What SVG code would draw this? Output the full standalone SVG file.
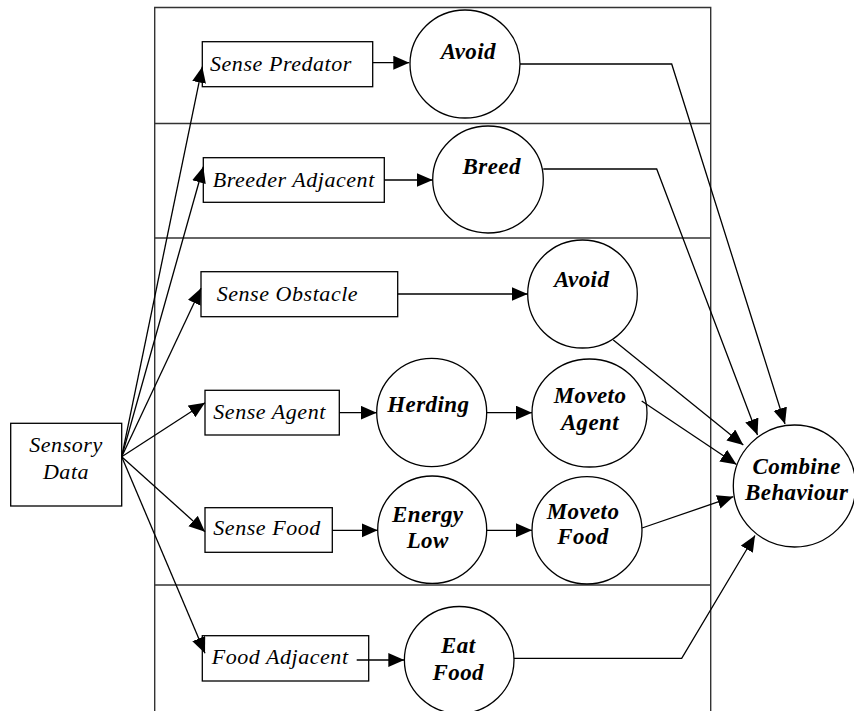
<svg xmlns="http://www.w3.org/2000/svg" width="854" height="711" viewBox="0 0 854 711">
<style>
.frame{fill:none;stroke:#333;stroke-width:1.4}
.box{fill:#fff;stroke:#000;stroke-width:1.3}
.circ{fill:#fff;stroke:#000;stroke-width:1.3}
.conn{fill:none;stroke:#000;stroke-width:1.3;marker-end:url(#ah)}
.bt{font-family:"Liberation Serif",serif;font-style:italic;font-size:22px;letter-spacing:0.55px;fill:#000}
.ct{font-family:"Liberation Serif",serif;font-style:italic;font-weight:bold;font-size:23px;letter-spacing:0.4px;fill:#000;text-anchor:middle}
</style>
<defs>
<marker id="ah" markerUnits="userSpaceOnUse" markerWidth="17" markerHeight="15" refX="16" refY="7" orient="auto">
<path d="M0,0 L16,7 L0,14 z" fill="#000"/>
</marker>
</defs>
<g id="frame">
<path class="frame" d="M154.7,711 V7.5 H710.7 V711"/>
<line class="frame" x1="154.7" y1="123.5" x2="710.7" y2="123.5"/>
<line class="frame" x1="154.7" y1="238" x2="710.7" y2="238"/>
<line class="frame" x1="154.7" y1="585" x2="710.7" y2="585"/>
</g>
<g id="sensory-data">
<rect class="box" x="10.7" y="423.3" width="111" height="82.7"/>
<text class="bt" x="66" y="451.7" text-anchor="middle">Sensory</text>
<text class="bt" x="66" y="479" text-anchor="middle">Data</text>
</g>
<g id="sense-predator">
<rect class="box" x="202.3" y="41.7" width="170.4" height="45"/>
<text class="bt" x="210" y="71">Sense Predator</text>
</g>
<g id="breeder-adjacent">
<rect class="box" x="203.3" y="157.7" width="181" height="44.6"/>
<text class="bt" x="212.7" y="186.7">Breeder Adjacent</text>
</g>
<g id="sense-obstacle">
<rect class="box" x="201" y="271.7" width="196.7" height="45"/>
<text class="bt" x="216.7" y="301">Sense Obstacle</text>
</g>
<g id="sense-agent">
<rect class="box" x="205" y="390.3" width="134.3" height="44.7"/>
<text class="bt" x="213.3" y="419.3">Sense Agent</text>
</g>
<g id="sense-food">
<rect class="box" x="205" y="507.7" width="127.3" height="44.6"/>
<text class="bt" x="213.3" y="535">Sense Food</text>
</g>
<g id="food-adjacent">
<rect class="box" x="202.3" y="635.7" width="166.4" height="45.3"/>
<text class="bt" x="211.7" y="664.3">Food Adjacent</text>
</g>
<g id="avoid-1">
<ellipse class="circ" cx="465" cy="64" rx="55" ry="54"/>
<text class="ct" x="468.3" y="59">Avoid</text>
</g>
<g id="breed">
<ellipse class="circ" cx="488" cy="179.5" rx="55.3" ry="53.5"/>
<text class="ct" x="491.7" y="174">Breed</text>
</g>
<g id="avoid-2">
<ellipse class="circ" cx="582.5" cy="294" rx="54.8" ry="54"/>
<text class="ct" x="581.7" y="286.7">Avoid</text>
</g>
<g id="herding">
<ellipse class="circ" cx="431.7" cy="412.5" rx="55" ry="54.2"/>
<text class="ct" x="428.3" y="411.7">Herding</text>
</g>
<g id="moveto-agent">
<ellipse class="circ" cx="589.5" cy="413" rx="57.5" ry="54"/>
<text class="ct" x="590" y="403">Moveto</text>
<text class="ct" x="590" y="430">Agent</text>
</g>
<g id="energy-low">
<ellipse class="circ" cx="432.2" cy="529.7" rx="54.5" ry="53.7"/>
<text class="ct" x="427.7" y="521.7">Energy</text>
<text class="ct" x="427.7" y="548.3">Low</text>
</g>
<g id="moveto-food">
<ellipse class="circ" cx="587" cy="530.3" rx="55" ry="53.7"/>
<text class="ct" x="583" y="519">Moveto</text>
<text class="ct" x="583" y="544">Food</text>
</g>
<g id="eat-food">
<ellipse class="circ" cx="459.2" cy="660" rx="54.8" ry="53.5"/>
<text class="ct" x="458.3" y="653.3">Eat</text>
<text class="ct" x="458.3" y="680">Food</text>
</g>
<g id="combine-behaviour">
<ellipse class="circ" cx="794.5" cy="486" rx="61.2" ry="61"/>
<text class="ct" x="796.7" y="474">Combine</text>
<text class="ct" x="796.7" y="500">Behaviour</text>
</g>
<g id="connectors">
<line class="conn" x1="121.7" y1="456.7" x2="202.3" y2="66.7"/>
<line class="conn" x1="121.7" y1="456.7" x2="203.3" y2="166.7"/>
<line class="conn" x1="121.7" y1="456.7" x2="201" y2="288.3"/>
<line class="conn" x1="121.7" y1="456.7" x2="205" y2="402.7"/>
<line class="conn" x1="121.7" y1="456.7" x2="205" y2="531.7"/>
<line class="conn" x1="121.7" y1="456.7" x2="205" y2="653.3"/>
<line class="conn" x1="372.7" y1="62.7" x2="409.3" y2="62.7"/>
<line class="conn" x1="384.3" y1="180" x2="432.7" y2="180"/>
<line class="conn" x1="397.7" y1="294" x2="527.7" y2="294"/>
<line class="conn" x1="339.3" y1="412.7" x2="376.7" y2="412.7"/>
<line class="conn" x1="486.7" y1="412.7" x2="532" y2="412.7"/>
<line class="conn" x1="332.3" y1="530.3" x2="377.7" y2="530.3"/>
<line class="conn" x1="486.7" y1="530.3" x2="532" y2="530.3"/>
<line class="conn" x1="356.7" y1="660" x2="404.3" y2="660"/>
<polyline class="conn" points="520,64 671.7,64 785,424"/>
<polyline class="conn" points="543.3,169 656.7,169 757.5,435"/>
<line class="conn" x1="613.3" y1="340" x2="743.3" y2="445"/>
<line class="conn" x1="641.7" y1="401" x2="736.5" y2="464.5"/>
<line class="conn" x1="642" y1="528" x2="733.3" y2="496.7"/>
<polyline class="conn" points="514,658.3 681.7,658.3 755,535.5"/>
</g>
</svg>
